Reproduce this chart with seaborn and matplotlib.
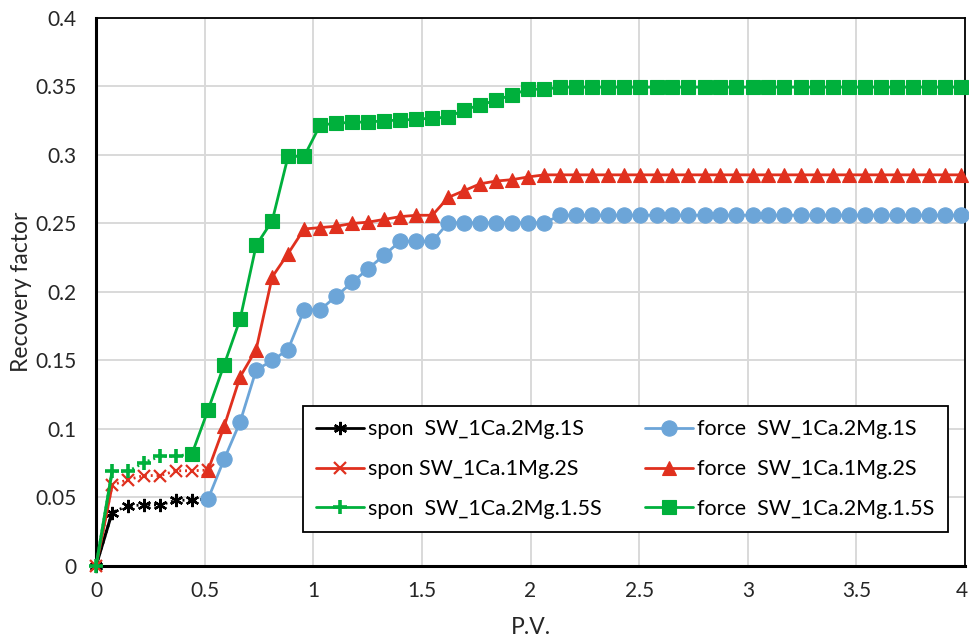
import matplotlib
matplotlib.use("Agg")
import matplotlib.pyplot as plt
import matplotlib.transforms as mtransforms
import seaborn as sns
import pandas as pd

# ---------------- data ----------------
pv = [0.000, 0.074, 0.147, 0.221, 0.295, 0.369, 0.442, 0.516, 0.590, 0.663,
      0.737, 0.811, 0.884, 0.958, 1.032, 1.106, 1.179, 1.253, 1.327, 1.400,
      1.474, 1.548, 1.621, 1.695, 1.769, 1.843, 1.916, 1.990, 2.064, 2.137,
      2.211, 2.285, 2.358, 2.432, 2.506, 2.580, 2.653, 2.727, 2.801, 2.874,
      2.948, 3.022, 3.095, 3.169, 3.243, 3.317, 3.390, 3.464, 3.538, 3.611,
      3.685, 3.759, 3.832, 3.906, 3.980]

spon_1 = [0, 0.039, 0.044, 0.0445, 0.0445, 0.048, 0.048, 0.049]          # SW_1Ca.2Mg.1S
spon_2 = [0, 0.059, 0.063, 0.066, 0.066, 0.0695, 0.0695, 0.070]           # SW_1Ca.1Mg.2S
spon_3 = [0, 0.069, 0.069, 0.0755, 0.080, 0.080, 0.082]                   # SW_1Ca.2Mg.1.5S

force_1 = ([0.049, 0.078, 0.105, 0.143, 0.150, 0.158, 0.187, 0.187, 0.197, 0.207,
            0.217, 0.227, 0.237, 0.237, 0.237]
           + [0.2505] * 7 + [0.256] * 26)                                   # from pv index 7
force_2 = ([0.070, 0.102, 0.138, 0.158, 0.211, 0.228, 0.246, 0.247, 0.248, 0.250,
            0.251, 0.253, 0.255, 0.256, 0.256, 0.269, 0.274, 0.279, 0.281, 0.282,
            0.284, 0.2855]
           + [0.2855] * 26)                                                 # from pv index 7
force_3 = ([0.082, 0.114, 0.147, 0.180, 0.234, 0.252, 0.299, 0.299, 0.322, 0.323,
            0.324, 0.324, 0.325, 0.3255, 0.326, 0.327, 0.3275, 0.333, 0.3365, 0.340,
            0.344, 0.348, 0.348]
           + [0.3495] * 26)                                                 # from pv index 6

labels = ["spon  SW_1Ca.2Mg.1S", "spon SW_1Ca.1Mg.2S", "spon  SW_1Ca.2Mg.1.5S",
          "force  SW_1Ca.2Mg.1S", "force  SW_1Ca.1Mg.2S", "force  SW_1Ca.2Mg.1.5S"]
x_ticks = [0, 0.5, 1, 1.5, 2, 2.5, 3, 3.5, 4]
x_tick_labels = ["0", "0.5", "1", "1.5", "2", "2.5", "3", "3.5", "4"]
y_ticks = [0, 0.05, 0.1, 0.15, 0.2, 0.25, 0.3, 0.35, 0.4]
y_tick_labels = ["0", "0.05", "0.1", "0.15", "0.2", "0.25", "0.3", "0.35", "0.4"]

# ---------------- style ----------------
sns.set_theme(style="white")
plt.rcParams["font.family"] = ["Lato", "DejaVu Sans"]
TXT = "#262626"
BLACK = "#000000"
RED = "#e0301e"
GREEN = "#00b03c"
BLUE = "#6ca5d8"

fig = plt.figure(figsize=(9.69, 6.38), dpi=100)
ax = fig.add_axes([0.0991, 0.1129, 0.8968, 0.8589])

handles = []

def spon(y, color, marker, ms, mew):
    df = pd.DataFrame({"x": pv[:len(y)], "y": y})
    # solid first segment
    sns.lineplot(data=df.iloc[:2], x="x", y="y", ax=ax, color=color, linewidth=2.2,
                 estimator=None, sort=False, legend=False, clip_on=False, zorder=3)
    sns.lineplot(data=df, x="x", y="y", ax=ax, color=color, linewidth=2.0,
                 linestyle=(0, (0.7, 1.4)), marker=marker, markersize=ms,
                 markeredgecolor=color, markerfacecolor=color, markeredgewidth=mew,
                 estimator=None, sort=False, legend=False, clip_on=False, zorder=3)
    handles.append(ax.lines[-1])

def force(y, start, color, marker, ms):
    df = pd.DataFrame({"x": pv[start:start + len(y)], "y": y})
    sns.lineplot(data=df, x="x", y="y", ax=ax, color=color, linewidth=2.0,
                 marker=marker, markersize=ms, markeredgecolor=color,
                 markerfacecolor=color, markeredgewidth=0.8,
                 estimator=None, sort=False, legend=False, clip_on=False, zorder=4)
    handles.append(ax.lines[-1])

spon(spon_1, BLACK, (6, 2, 0), 9.5, 1.7)
spon(spon_2, RED, "x", 8.5, 1.6)
spon(spon_3, GREEN, "+", 10, 2.6)
force(force_1, 7, BLUE, "o", 11)
force(force_2, 7, RED, "^", 10.5)
force(force_3, 6, GREEN, "s", 10)

ax.set_xlim(0, 4)
ax.set_ylim(0, 0.4)
ax.set_xticks(x_ticks)
ax.set_xticklabels(x_tick_labels)
ax.set_yticks(y_ticks)
ax.set_yticklabels(y_tick_labels)
ax.tick_params(axis="both", length=0, labelsize=15, labelcolor=TXT)
ax.tick_params(axis="y", pad=14)
ax.tick_params(axis="x", pad=11)
ax.grid(True, color="#d9d9d9", linewidth=1.4)
ax.set_axisbelow(True)

# keep the last x tick label inside the canvas
last = ax.get_xticklabels()[-1]
last.set_transform(last.get_transform() +
                   mtransforms.ScaledTranslation(-3 / 100, 0, fig.dpi_scale_trans))

for side in ["left", "bottom"]:
    ax.spines[side].set_color("black")
    ax.spines[side].set_linewidth(2.2)
for side in ["top", "right"]:
    ax.spines[side].set_color("black")
    ax.spines[side].set_linewidth(1.3)

ax.set_xlabel("P.V.", fontsize=16.5, color=TXT)
ax.set_ylabel("Recovery factor", fontsize=16.5, color=TXT)
ax.xaxis.label.set_va("center")
ax.yaxis.label.set_va("center")
ax.xaxis.set_label_coords(0.5, -0.113)
ax.yaxis.set_label_coords(-0.086, 0.5)

leg = ax.legend(handles, labels, ncol=2, loc="upper left", mode="expand",
                bbox_to_anchor=(0.238, 0.292, 0.742, 0.0), frameon=True, fancybox=False,
                edgecolor="black", framealpha=1, fontsize=15.5, numpoints=1,
                handlelength=2.2, handletextpad=0.2, columnspacing=1.6,
                labelspacing=0.92, borderpad=0.62, borderaxespad=0)
leg.get_frame().set_linewidth(1.3)
for t in leg.get_texts():
    t.set_color("black")
for ln in leg.get_lines():
    ln.set_linestyle("-")

fig.savefig("out.png", dpi=100)
